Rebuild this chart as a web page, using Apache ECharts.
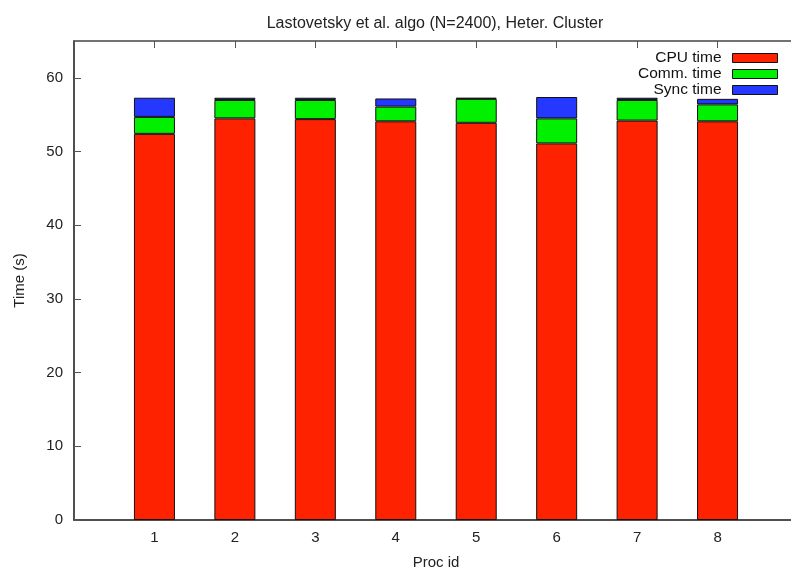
<!DOCTYPE html>
<html>
<head>
<meta charset="utf-8">
<script src="https://cdn.jsdelivr.net/npm/echarts@6/dist/echarts.min.js"></script>
<style>
  html, body { margin: 0; padding: 0; background: #fff; }
  #chart { width: 791px; height: 571px; }
</style>
</head>
<body>
<div id="chart"></div>
<script>
// 数据
const procIds = ['1', '2', '3', '4', '5', '6', '7', '8'];
const cpuTime = [52.4, 54.5, 54.4, 54.1, 53.9, 51.1, 54.2, 54.1];
const commTime = [2.3, 2.5, 2.6, 2.0, 3.25, 3.4, 2.8, 2.3];
const syncTime = [2.6, 0.3, 0.3, 1.1, 0.15, 2.9, 0.3, 0.75];
const yTicks = [0, 10, 20, 30, 40, 50, 60];

const FONT = '"Liberation Sans", Arial, sans-serif';

// x 轴两端各留一个空位 (0 和 9)
const xCats = ['0'].concat(procIds, ['9']);

const chart = echarts.init(document.getElementById('chart'));

function padded(values) {
    return ['-'].concat(values, ['-']);
}

function barSeries(name, values, color) {
    return {
        name: name,
        type: 'bar',
        stack: 'total',
        barWidth: 41,
        data: padded(values),
        itemStyle: { color: color, borderColor: '#111', borderWidth: 1 },
        emphasis: { disabled: true },
        animation: false
    };
}

const tickStyle = { show: true, inside: true, length: 7, lineStyle: { color: '#555', width: 1 } };

chart.setOption({
    backgroundColor: '#fff',
    title: {
        text: 'Lastovetsky et al. algo (N=2400), Heter. Cluster',
        left: 430,
        textAlign: 'center',
        top: 11,
        textStyle: { fontFamily: FONT, fontSize: 16, fontWeight: 'normal', color: '#222' }
    },
    legend: {
        orient: 'vertical',
        right: 8,
        top: 45,
        align: 'right',
        itemWidth: 45,
        itemHeight: 9,
        itemGap: 0,
        icon: 'rect',
        selectedMode: false,
        textStyle: { fontFamily: FONT, fontSize: 15.5, lineHeight: 14, color: '#111', padding: [0, 6, 0, 0] },
        itemStyle: { borderColor: '#111', borderWidth: 1 },
        data: ['CPU time', 'Comm. time', 'Sync time']
    },
    grid: {
        left: 74,
        right: -7,
        top: 41,
        bottom: 51,
        outerBoundsMode: 'none',
        show: true,
        borderColor: '#444',
        borderWidth: 1.5
    },
    xAxis: [{
        type: 'category',
        data: xCats,
        boundaryGap: false,
        name: 'Proc id',
        nameLocation: 'middle',
        nameGap: 35,
        nameTextStyle: { fontFamily: FONT, fontSize: 15, color: '#222' },
        axisLine: { show: true, onZero: false, lineStyle: { color: '#444', width: 1.5 } },
        axisTick: tickStyle,
        splitLine: { show: false },
        axisLabel: {
            fontFamily: FONT, fontSize: 15, color: '#222', margin: 10, interval: 0,
            formatter: v => (procIds.indexOf(v) >= 0 ? v : '')
        }
    }, {
        type: 'category',
        data: xCats,
        boundaryGap: false,
        position: 'top',
        axisLine: { show: false, onZero: false },
        axisTick: tickStyle,
        axisLabel: { show: false },
        splitLine: { show: false }
    }],
    yAxis: [{
        type: 'value',
        min: 0,
        max: 65,
        interval: 10,
        name: 'Time (s)',
        nameLocation: 'middle',
        nameGap: 47,
        nameRotate: 90,
        nameTextStyle: { fontFamily: FONT, fontSize: 15, color: '#222' },
        axisLine: { show: true, onZero: false, lineStyle: { color: '#444', width: 1.5 } },
        axisTick: Object.assign({ customValues: yTicks }, tickStyle),
        splitLine: { show: false },
        axisLabel: {
            fontFamily: FONT, fontSize: 15, color: '#222', margin: 11,
            customValues: yTicks
        }
    }, {
        type: 'value',
        position: 'right',
        min: 0,
        max: 65,
        interval: 10,
        axisLine: { show: false, onZero: false },
        axisTick: Object.assign({ customValues: yTicks }, tickStyle),
        axisLabel: { show: false },
        splitLine: { show: false }
    }],
    series: [
        barSeries('CPU time', cpuTime, '#ff2200'),
        barSeries('Comm. time', commTime, '#00f000'),
        barSeries('Sync time', syncTime, '#2538ff')
    ]
});
</script>
</body>
</html>
